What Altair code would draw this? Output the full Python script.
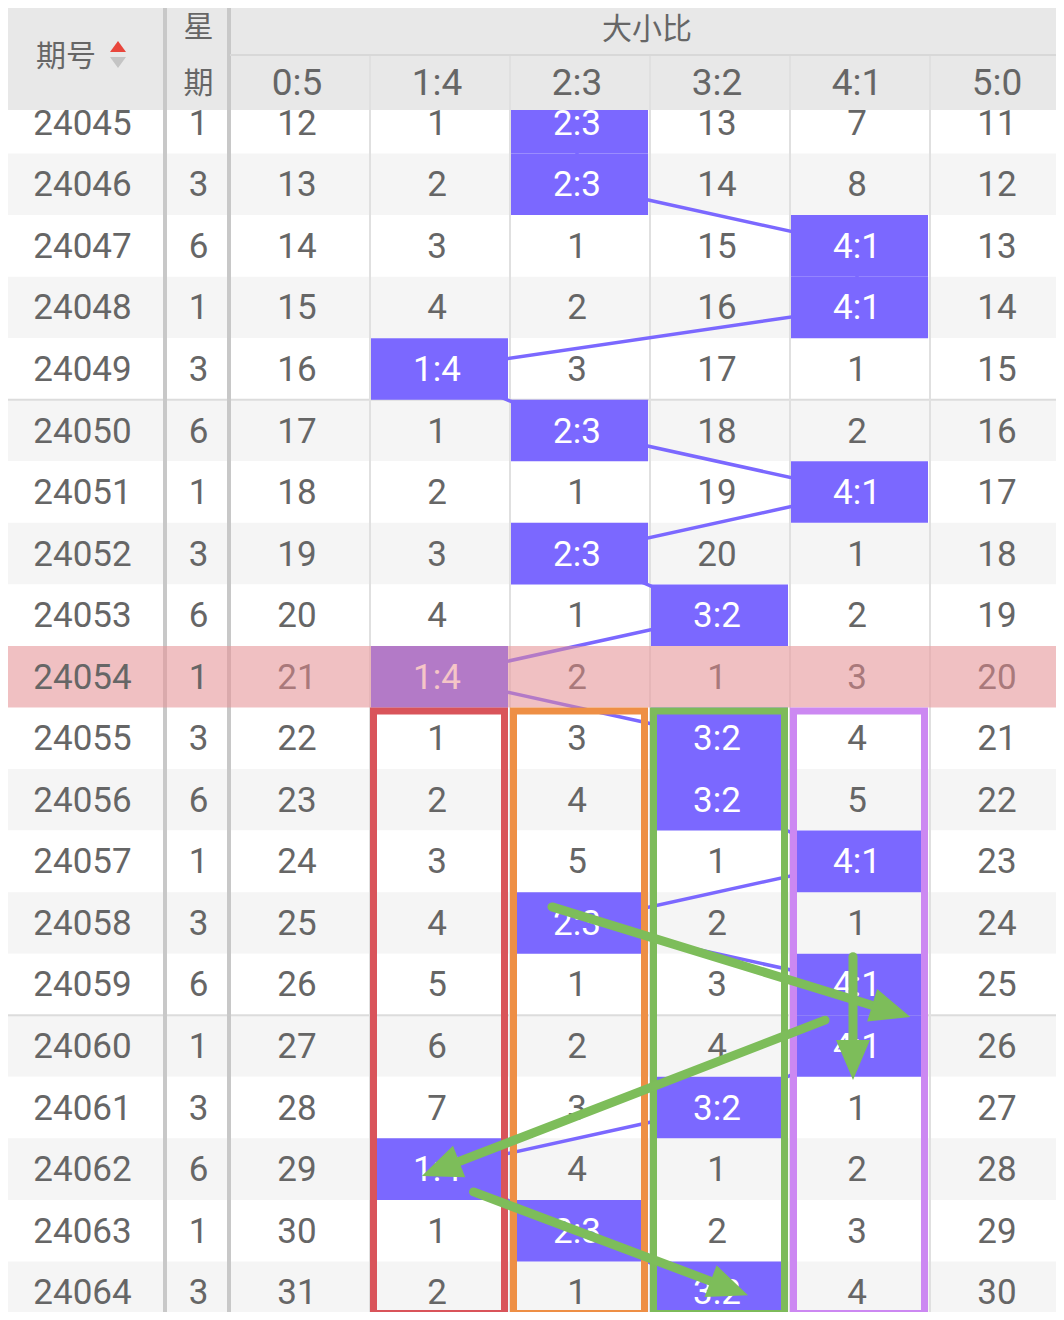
import math
import altair as alt
import pandas as pd

# ---------------- data ----------------
periods = ["24045", "24046", "24047", "24048", "24049", "24050", "24051", "24052", "24053", "24054",
           "24055", "24056", "24057", "24058", "24059", "24060", "24061", "24062", "24063", "24064"]
weekdays = [1, 3, 6, 1, 3, 6, 1, 3, 6, 1, 3, 6, 1, 3, 6, 1, 3, 6, 1, 3]
ratio_labels = ["0:5", "1:4", "2:3", "3:2", "4:1", "5:0"]
# omission counts per ratio column; None = that ratio was drawn (hit)
miss_05 = [12, 13, 14, 15, 16, 17, 18, 19, 20, 21, 22, 23, 24, 25, 26, 27, 28, 29, 30, 31]
miss_14 = [1, 2, 3, 4, None, 1, 2, 3, 4, None, 1, 2, 3, 4, 5, 6, 7, None, 1, 2]
miss_23 = [None, None, 1, 2, 3, None, 1, None, 1, 2, 3, 4, 5, None, 1, 2, 3, 4, None, 1]
miss_32 = [13, 14, 15, 16, 17, 18, 19, 20, None, 1, None, None, 1, 2, 3, 4, None, 1, 2, None]
miss_41 = [7, 8, None, None, 1, 2, None, 1, 2, 3, 4, 5, None, 1, None, None, 1, 2, 3, 4]
miss_50 = [11, 12, 13, 14, 15, 16, 17, 18, 19, 20, 21, 22, 23, 24, 25, 26, 27, 28, 29, 30]
highlight_period = "24054"
group_starts = ["24050", "24060"]
# annotation boxes: ratio column, first period
box_cols = ["1:4", "2:3", "3:2", "4:1"]
box_colors = ["#d9545a", "#ee8f45", "#7dbb5a", "#cc88f2"]
box_from = "24055"
# arrows in cell units (ratio column units, row units)
arrow_x0 = [2.30, 4.45, 4.25, 1.74]
arrow_y0 = [13.24, 14.05, 15.08, 17.87]
arrow_x1 = [4.86, 4.45, 1.37, 3.70]
arrow_y1 = [15.03, 16.05, 17.61, 19.55]

# ---------------- layout ----------------
W, H, M = 1064, 1320, 8
VIEW_W, VIEW_H = W - 2 * M, H - 2 * M
HEADER_H, HEADER_SPLIT = 110, 55
ROW_TOP0, ROW_H = 92, 61.55
PERIOD_R, WEEK_R = 165, 230
RATIO_W = 140
FONT_NUM = "Roboto"
FONT_CJK = "Noto Sans CJK SC"
TXT = "#666666"
HIT = "#7b68ff"
GREEN = "#7dbd5a"

miss_cols = [miss_05, miss_14, miss_23, miss_32, miss_41, miss_50]
xs = alt.Scale(domain=[M, M + VIEW_W], nice=False, zero=False)
ys = alt.Scale(domain=[M, M + VIEW_H], nice=False, zero=False, reverse=True)


def X(f):
    return alt.X(f, type="quantitative", scale=xs, axis=None)


def Y(f):
    return alt.Y(f, type="quantitative", scale=ys, axis=None)


def X2(f):
    return alt.X2(f)


def Y2(f):
    return alt.Y2(f)


def col_left(c):
    return WEEK_R + RATIO_W * c


def row_top(r):
    return ROW_TOP0 + ROW_H * r


# row backgrounds
bg_rows = []
for r, p in enumerate(periods):
    bg_rows.append(dict(x=0, x2=W, y=max(row_top(r), HEADER_H), y2=row_top(r + 1),
                        fill="#ffffff" if r % 2 == 0 else "#f5f5f5"))
bg_df = pd.DataFrame(bg_rows)

# cells
cells, hits = [], []
for r, p in enumerate(periods):
    cy = row_top(r) + ROW_H / 2
    for c, lab in enumerate(ratio_labels):
        v = miss_cols[c][r]
        cx = col_left(c) + 67
        if v is None:
            hits.append(dict(r=r, cx=cx, cy=cy, x=col_left(c) + 1, x2=col_left(c + 1) - 2,
                             y=max(row_top(r), HEADER_H), y2=row_top(r + 1),
                             fill=HIT))
            cells.append(dict(x=cx, y=cy, t=lab, col="#ffffff"))
        else:
            cells.append(dict(x=cx, y=cy, t=str(v), col=TXT))
cells_df = pd.DataFrame(cells)
hits_df = pd.DataFrame(hits)

left_rows = []
for r, p in enumerate(periods):
    cy = row_top(r) + ROW_H / 2
    left_rows.append(dict(x=PERIOD_R / 2, y=cy, t=p))
    left_rows.append(dict(x=(PERIOD_R + WEEK_R) / 2 + 1, y=cy, t=str(weekdays[r])))
left_df = pd.DataFrame(left_rows)

hi = periods.index(highlight_period)
overlay_df = pd.DataFrame([dict(x=0, x2=W, y=row_top(hi), y2=row_top(hi + 1))])

gl_df = pd.DataFrame([dict(x=0, x2=W, y=row_top(periods.index(g)), y2=row_top(periods.index(g)))
                      for g in group_starts])
thin_df = pd.DataFrame([dict(x=col_left(c), x2=col_left(c), y=HEADER_SPLIT, y2=H)
                        for c in range(1, len(ratio_labels))])
thick_df = pd.DataFrame([dict(x=PERIOD_R, x2=PERIOD_R, y=0, y2=H),
                         dict(x=WEEK_R - 1, x2=WEEK_R - 1, y=0, y2=H)])
hsplit_df = pd.DataFrame([dict(x=WEEK_R, x2=W, y=HEADER_SPLIT, y2=HEADER_SPLIT)])
header_bg_df = pd.DataFrame([dict(x=0, x2=W, y=0, y2=HEADER_H)])

hdr_cjk_df = pd.DataFrame([
    dict(x=66, y=55, t="期号"),
    dict(x=(PERIOD_R + WEEK_R) / 2 + 1, y=26, t="星"),
    dict(x=(PERIOD_R + WEEK_R) / 2 + 1, y=82, t="期"),
    dict(x=(WEEK_R + W) / 2, y=28, t="大小比"),
])
hdr_num_df = pd.DataFrame([dict(x=col_left(c) + 67, y=82, t=lab) for c, lab in enumerate(ratio_labels)])
tri_df = pd.DataFrame([dict(x=118, y=46.5, col="#e8463c", s="up"),
                       dict(x=118, y=62.5, col="#c4c4c4", s="down")])

bi = periods.index(box_from)
box_rows = []
for lab, colr in zip(box_cols, box_colors):
    c = ratio_labels.index(lab)
    box_rows.append(dict(x=col_left(c) + 3.5, x2=col_left(c + 1) - 5.5,
                         y=row_top(bi) + 3.5, y2=H - 6.5, col=colr))
box_df = pd.DataFrame(box_rows)

arr_lines, arr_heads = [], []
for ux0, uy0, ux1, uy1 in zip(arrow_x0, arrow_y0, arrow_x1, arrow_y1):
    x0, y0 = WEEK_R + RATIO_W * ux0, ROW_TOP0 + ROW_H * uy0
    x1, y1 = WEEK_R + RATIO_W * ux1, ROW_TOP0 + ROW_H * uy1
    dx, dy = x1 - x0, y1 - y0
    L = math.hypot(dx, dy)
    ux, uy = dx / L, dy / L
    arr_lines.append(dict(x=x0, y=y0, x2=x1 - 26 * ux, y2=y1 - 26 * uy))
    ang = math.degrees(math.atan2(dx, -dy)) % 360
    arr_heads.append(dict(x=x1 - 20 * ux, y=y1 - 20 * uy, ang=ang))
arr_line_df = pd.DataFrame(arr_lines)
arr_head_df = pd.DataFrame(arr_heads)

# ---------------- layers ----------------
def rects(df, **kw):
    return alt.Chart(df).mark_rect(**kw).encode(x=X("x"), x2=X2("x2"), y=Y("y"), y2=Y2("y2"))


def rules(df, **kw):
    return alt.Chart(df).mark_rule(**kw).encode(x=X("x"), x2=X2("x2"), y=Y("y"), y2=Y2("y2"))


header_bg = rects(header_bg_df, color="#e8e8e8")
row_bg = alt.Chart(bg_df).mark_rect().encode(
    x=X("x"), x2=X2("x2"), y=Y("y"), y2=Y2("y2"), color=alt.Color("fill:N", scale=None))
group_lines = rules(gl_df, color="#dcdcdc", strokeWidth=2)
thin_sep = rules(thin_df, color="#e0e0e0", strokeWidth=2)
thick_sep = rules(thick_df, color="#c8c8c8", strokeWidth=4)
hsplit = rules(hsplit_df, color="#d8d8d8", strokeWidth=2)

trend = alt.Chart(hits_df).mark_line(color=HIT, strokeWidth=3.5).encode(
    x=X("cx"), y=Y("cy"), order=alt.Order("r:Q"))
hit_cells = rects(hits_df, color=HIT)
ratio_text = alt.Chart(cells_df).mark_text(
    font=FONT_NUM, fontSize=35, baseline="middle", align="center", dy=1).encode(
    x=X("x"), y=Y("y"), text="t:N", color=alt.Color("col:N", scale=None))
overlay = rects(overlay_df, color="#eb8b8f", opacity=0.5)
left_text = alt.Chart(left_df).mark_text(
    font=FONT_NUM, fontSize=35, baseline="middle", align="center", color=TXT, dy=1).encode(
    x=X("x"), y=Y("y"), text="t:N")
hdr_cjk = alt.Chart(hdr_cjk_df).mark_text(
    font=FONT_CJK, fontSize=30, baseline="middle", align="center", color="#666666", dy=2).encode(
    x=X("x"), y=Y("y"), text="t:N")
hdr_num = alt.Chart(hdr_num_df).mark_text(
    font=FONT_NUM, fontSize=37, baseline="middle", align="center", color="#666666", dy=2).encode(
    x=X("x"), y=Y("y"), text="t:N")
tri_up = alt.Chart(tri_df[tri_df.s == "up"]).mark_point(
    shape="M0,-0.7L-1,0.7L1,0.7Z", filled=True, size=256, opacity=1).encode(
    x=X("x"), y=Y("y"), color=alt.Color("col:N", scale=None))
tri_down = alt.Chart(tri_df[tri_df.s == "down"]).mark_point(
    shape="M0,0.7L-1,-0.7L1,-0.7Z", filled=True, size=256, opacity=1).encode(
    x=X("x"), y=Y("y"), color=alt.Color("col:N", scale=None))
boxes = alt.Chart(box_df).mark_rect(fillOpacity=0, strokeWidth=7).encode(
    x=X("x"), x2=X2("x2"), y=Y("y"), y2=Y2("y2"), stroke=alt.Stroke("col:N", scale=None))
arrow_lines = rules(arr_line_df, color=GREEN, strokeWidth=9, strokeCap="round")
arrow_heads = alt.Chart(arr_head_df).mark_point(
    shape="M0,-1L-0.85,1L0.85,1Z", filled=True, size=1600, opacity=1, color=GREEN).encode(
    x=X("x"), y=Y("y"), angle=alt.Angle("ang:Q", scale=None))

chart = alt.layer(
    header_bg, row_bg, group_lines, thin_sep, thick_sep, hsplit,
    trend, hit_cells, ratio_text, overlay, left_text,
    hdr_cjk, hdr_num, tri_up, tri_down, boxes, arrow_lines, arrow_heads,
).properties(
    width=VIEW_W, height=VIEW_H, padding=0,
    autosize=alt.AutoSizeParams(type="none"),
    background="#ffffff",
).configure_view(stroke=None)

chart.save("out.html", embed_options={"renderer": "svg", "actions": False})
